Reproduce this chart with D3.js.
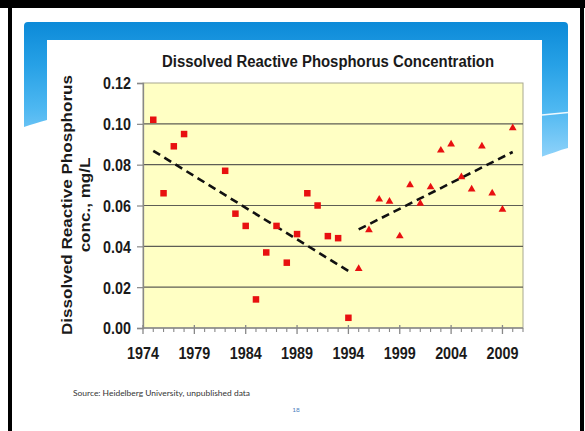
<!DOCTYPE html>
<html><head><meta charset="utf-8">
<script src="https://cdn.jsdelivr.net/npm/d3@7"></script>
<style>body{margin:0;background:#fff;overflow:hidden}svg{display:block}</style>
</head><body>
<script>
// ---- data ----
const title = "Dissolved Reactive Phosphorus Concentration";
const yTitle1 = "Dissolved Reactive Phosphorus";
const yTitle2 = "conc., mg/L";
const source = "Source: Heidelberg University, unpublished data";
const pageNum = "18";
const squareYears = [1975,1976,1977,1978,1982,1983,1984,1985,1986,1987,1988,1989,1990,1991,1992,1993,1994];
const squareVals  = [0.102,0.066,0.089,0.095,0.077,0.056,0.050,0.014,0.037,0.050,0.032,0.046,0.066,0.060,0.045,0.044,0.005];
const triYears = [1995,1996,1997,1998,1999,2000,2001,2002,2003,2004,2005,2006,2007,2008,2009,2010];
const triVals  = [0.029,0.048,0.063,0.062,0.045,0.070,0.061,0.069,0.087,0.090,0.074,0.068,0.089,0.066,0.058,0.098];
const trend1Years = [1975,1994], trend1Vals = [0.0868,0.0279];
const trend2Years = [1995,2010], trend2Vals = [0.0483,0.0862];
const yTicks = [0,0.02,0.04,0.06,0.08,0.10,0.12];
const xMajorTicks = [1974,1979,1984,1989,1994,1999,2004,2009];

const W=585,H=431;
const svg=d3.select("body").append("svg").attr("width",W).attr("height",H);
const defs=svg.append("defs");
const g1=defs.append("linearGradient").attr("id","band").attr("x1",0).attr("y1",0).attr("x2",0).attr("y2",1);
[[0,"#0c8ad8"],[0.3,"#27a1e6"],[0.6,"#4db7f1"],[1,"#9ad7fb"]].forEach(s=>g1.append("stop").attr("offset",s[0]).attr("stop-color",s[1]));

// slide frame
svg.append("rect").attr("x",0).attr("y",0).attr("width",W).attr("height",8).attr("fill","#000");
svg.append("rect").attr("x",8).attr("y",0).attr("width",4).attr("height",H).attr("fill","#000");
svg.append("rect").attr("x",580).attr("y",0).attr("width",4).attr("height",H).attr("fill","#000");

// blue band
svg.append("path").attr("fill","url(#band)")
  .attr("d","M24,26 Q24,22 28,22 L564,22 Q568,22 568,26 L568,148 C560,150 550,154 541,157 C400,200 200,60 47,120 C40,122 32,124 24,127 Z");
svg.append("path").attr("d","M542,115 L568,112.5").attr("stroke","#ffffff").attr("stroke-width",1.5).attr("fill","none").attr("opacity",0.9);

// chart white background
svg.append("rect").attr("x",47).attr("y",40).attr("width",495).attr("height",340).attr("fill","#fff");

const font='"Liberation Sans", Arial, sans-serif';
const x=d3.scaleLinear().domain([1974,2011]).range([143,523]);
const y=d3.scaleLinear().domain([0,0.12]).range([328,83]);

// plot area
svg.append("rect").attr("x",x(1974)).attr("y",y(0.12)).attr("width",x(2011)-x(1974)).attr("height",y(0)-y(0.12))
  .attr("fill","#ffffc4").attr("stroke","#a8a890").attr("stroke-width",1);

// gridlines
svg.append("g").selectAll("line").data(yTicks.filter(d=>d>0 && d<0.12)).join("line")
  .attr("x1",x(1974)).attr("x2",x(2011)).attr("y1",d=>y(d)).attr("y2",d=>y(d))
  .attr("stroke","#5e5e55").attr("stroke-width",1.2);

// y axis
const ya=svg.append("g").attr("transform",`translate(${x(1974)},0)`)
  .call(d3.axisLeft(y).tickValues(yTicks).tickSize(6).tickFormat(d3.format(".2f")));
ya.select(".domain").attr("stroke","#888").attr("stroke-width",1.3);
ya.selectAll(".tick line").attr("stroke","#888").attr("stroke-width",1.2);
ya.selectAll("text").attr("x",-12).attr("dy","0.36em").attr("font-family",font).attr("font-weight","bold")
  .attr("font-size",16.3).attr("fill","#1a1a1a")
  .each(function(){const w=this.getComputedTextLength();d3.select(this).attr("textLength",w*0.88).attr("lengthAdjust","spacingAndGlyphs");});

// x axis
const xa=svg.append("g").attr("transform",`translate(0,${y(0)})`);
xa.append("line").attr("x1",x(1974)).attr("x2",x(2011)).attr("stroke","#888").attr("stroke-width",1.3);
const allYears=d3.range(1975,2012);
xa.selectAll("line.minor").data(allYears.filter(d=>!xMajorTicks.includes(d))).join("line").attr("class","minor")
  .attr("x1",d=>x(d)).attr("x2",d=>x(d)).attr("y1",0).attr("y2",4).attr("stroke","#888").attr("stroke-width",1.1);
xa.selectAll("line.major").data(xMajorTicks).join("line").attr("class","major")
  .attr("x1",d=>x(d)).attr("x2",d=>x(d)).attr("y1",-3).attr("y2",6).attr("stroke","#888").attr("stroke-width",1.3);
xa.selectAll("text").data(xMajorTicks).join("text")
  .attr("x",d=>x(d)).attr("y",31).attr("text-anchor","middle").attr("font-family",font).attr("font-weight","bold")
  .attr("font-size",16.5).attr("fill","#1a1a1a").text(d=>d)
  .each(function(){const w=this.getComputedTextLength();d3.select(this).attr("textLength",w*0.87).attr("lengthAdjust","spacingAndGlyphs");});

// trend lines
const line=d3.line().x(d=>x(d[0])).y(d=>y(d[1]));
[[trend1Years,trend1Vals],[trend2Years,trend2Vals]].forEach(([ys,vs])=>{
  svg.append("path").attr("d",line(ys.map((yr,i)=>[yr,vs[i]]))).attr("fill","none")
    .attr("stroke","#111").attr("stroke-width",2.6).attr("stroke-dasharray","8,5");
});

// markers
const red="#e81010";
const sq=6.5;
svg.append("g").selectAll("rect").data(squareYears.map((yr,i)=>[yr,squareVals[i]])).join("rect")
  .attr("x",d=>x(d[0])-sq/2).attr("y",d=>y(d[1])-sq/2).attr("width",sq).attr("height",sq).attr("fill",red);
svg.append("g").selectAll("path").data(triYears.map((yr,i)=>[yr,triVals[i]])).join("path")
  .attr("d",d3.symbol(d3.symbolTriangle,26)).attr("transform",d=>`translate(${x(d[0])},${y(d[1])})`).attr("fill",red);

// title
svg.append("text").attr("x",328).attr("y",67).attr("text-anchor","middle").attr("font-family",font)
  .attr("font-weight","bold").attr("font-size",16).attr("fill","#1a1a1a").attr("textLength",332)
  .attr("lengthAdjust","spacingAndGlyphs").text(title);

// y title
svg.append("text").attr("transform","translate(72,205) rotate(-90)").attr("text-anchor","middle")
  .attr("font-family",font).attr("font-weight","bold").attr("font-size",15.5).attr("fill","#1a1a1a")
  .attr("textLength",260).attr("lengthAdjust","spacingAndGlyphs").text(yTitle1);
svg.append("text").attr("transform","translate(90,205) rotate(-90)").attr("text-anchor","middle")
  .attr("font-family",font).attr("font-weight","bold").attr("font-size",15.5).attr("fill","#1a1a1a")
  .text(yTitle2)
  .each(function(){const w=this.getComputedTextLength();d3.select(this).attr("textLength",w*1.1).attr("lengthAdjust","spacingAndGlyphs");});

// source & page number
svg.append("text").attr("x",73).attr("y",396).attr("font-family","Lato, 'Open Sans', sans-serif").attr("font-size",8)
  .attr("fill","#333").attr("textLength",177).attr("lengthAdjust","spacingAndGlyphs").text(source);
svg.append("text").attr("x",296).attr("y",412).attr("text-anchor","middle").attr("font-family","Lato, sans-serif")
  .attr("font-size",6.5).attr("fill","#4f7fc0").text(pageNum);
</script>
</body></html>
